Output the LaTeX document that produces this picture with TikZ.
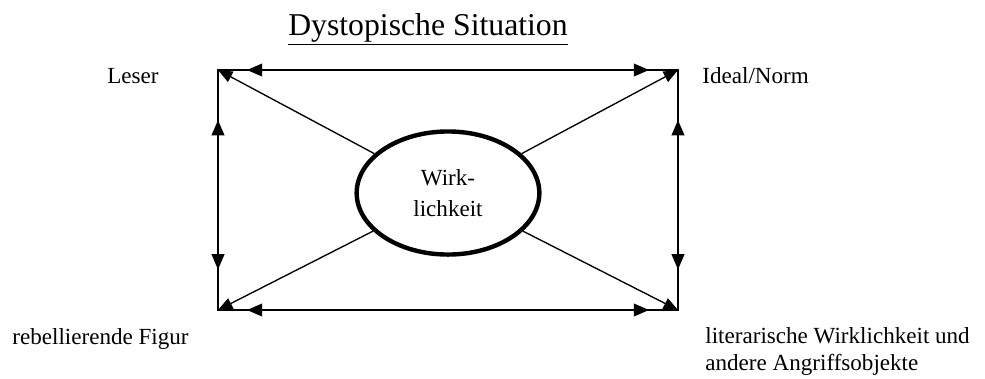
\documentclass[tikz,border=0pt]{standalone}
\usepackage{fontspec}
\setmainfont{Liberation Serif}
\usetikzlibrary{arrows.meta,shapes.geometric}
\tikzset{
	rahmen/.style={line width=0.55pt},
	doppelpfeil/.style={line width=1.2pt, {Triangle[length=8pt,width=6.5pt]}-{Triangle[length=8pt,width=6.5pt]}},
	strahl/.style={line width=0.7pt, -{Triangle[length=7.5pt,width=6pt]}},
	beschriftung/.style={font=\fontsize{12}{13.8}\selectfont, inner sep=0pt, anchor=base west},
	kern/.style={draw, ellipse, line width=2.3pt, inner sep=0pt, minimum width=95pt, minimum height=64pt, align=center, font=\fontsize{12}{16.5}\selectfont}
}
\begin{document}
\begin{tikzpicture}[x=0.52pt, y=-0.52pt]
		\useasboundingbox (0, 0) rectangle (985, 378);

		\node[inner sep=0pt, anchor=base, font=\fontsize{16.5}{20}\selectfont] (titel) at (428, 35) {\underline{Dystopische Situation}};

		\coordinate (LO) at (218, 70);
		\coordinate (RO) at (678, 70);
		\coordinate (LU) at (218, 310);
		\coordinate (RU) at (678, 310);

		\draw[rahmen] (LO) rectangle (RU);

		\node[kern] (wirk) at (448, 193) {Wirk-\\lichkeit};

		\draw[doppelpfeil, shorten <=15pt, shorten >=15pt] (LO) -- (RO);
		\draw[doppelpfeil, shorten <=15pt, shorten >=15pt] (LU) -- (RU);
		\draw[doppelpfeil, shorten <=26pt, shorten >=21pt] (LO) -- (LU);
		\draw[doppelpfeil, shorten <=26pt, shorten >=21pt] (RO) -- (RU);

		\foreach \ecke in {LO, RO, LU, RU}{
				\draw[strahl] (wirk) -- (\ecke);
			}

		\node[beschriftung] (leser) at (107, 83) {Leser};
		\node[beschriftung] (ideal) at (702, 83) {Ideal/Norm};
		\node[beschriftung] (rebell) at (12, 344) {rebellierende Figur};
		\node[beschriftung, align=left] (literar) at (705, 370.5) {literarische Wirklichkeit und\\andere Angriffsobjekte};
	\end{tikzpicture}
\end{document}
